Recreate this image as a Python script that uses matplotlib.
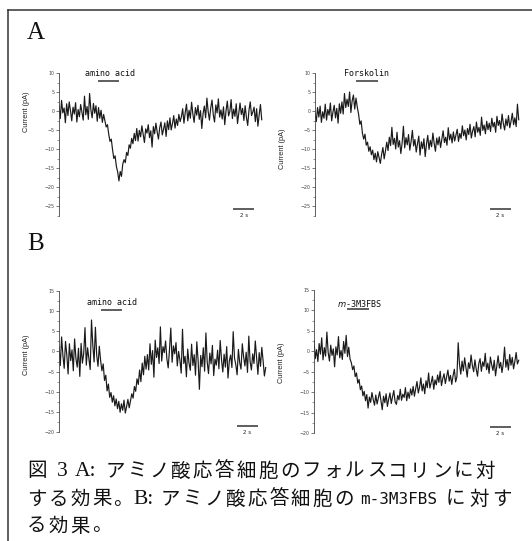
"""Fig 3: patch-clamp current traces, amino-acid responsive cells (A: forskolin, B: m-3M3FBS)."""
import numpy as np
import matplotlib
matplotlib.use("Agg")
import matplotlib.pyplot as plt
from matplotlib.lines import Line2D

W, H = 532, 541
INK = "#1a1a1a"
AXC = "#444444"

# ---------------- data (pA), 160 samples over 20 s each
A_AMINO = [
    1.5, -2.0, 2.8, -0.5, 0.8, -3.1, 1.9, -1.2, 2.4, 0.1, -2.6, 1.0, -0.8, 2.2, -2.9, 0.4, -1.5, 1.7, -0.3, -2.4,
    3.9, -1.0, 1.2, -2.2, 4.6, 0.3, -1.8, 2.0, -0.6, 1.4, -2.7, 0.9, -1.9, 0.2, -3.0, -0.9,
    -2.5, -4.2, -3.6, -6.1, -8.0, -7.4, -10.2, -12.5, -11.8, -14.6, -16.0,
    -18.4, -15.9, -17.2, -14.0, -12.8, -13.6, -10.9, -11.7, -8.9, -9.8, -7.2, -8.6, -5.9, -7.8,
    -4.6, -7.9, -5.1, -6.8, -3.9, -6.2, -8.3, -4.7, -5.8, -3.6, -7.0, -5.2, -9.5, -4.1, -6.0, -3.2, -5.5,
    -7.4, -4.4, -2.9, -6.3, -4.8, -3.1, -6.7, -2.6, -4.9, -1.8, -5.0, -3.3, -1.2, -4.5, -2.1, -3.8, -0.9, -2.8,
    -1.5, 0.6, -3.2, -0.4, 1.8, -2.6, 0.2, -1.9, 2.3, -0.8, -3.0, 0.9, -1.1, 1.5, -2.2, 0.1, -4.6, -0.7,
    1.3, -1.8, 3.4, -0.2, -2.4, 0.8, 2.9, -1.0, -2.9, 1.6, -0.5, 3.2, -1.6, 0.3, -2.1, 1.1, -3.6, 0.0,
    2.6, -1.3, -0.1, 3.0, -2.0, 0.5, -1.4, 1.9, -3.3, -0.6, 2.1, -0.9, 0.7, -2.5, 1.4, -1.7, -3.8, 0.2,
    2.4, -1.2, -0.3, 1.0, -2.8, 0.6, -4.0, -1.0, 1.7, -2.3,
]
A_FORSK = [
    -0.5, -2.8, 0.9, -1.6, 1.3, -3.0, -0.2, -1.9, 1.8, -2.4, 0.4, -1.1, 2.1, -2.6, -0.3, 1.5, -1.8, 0.7, -3.2, 1.9, -0.6,
    2.4, -0.8, 4.6, 0.9, 3.1, 1.2, 5.0, -0.4, 2.7, 4.2, 0.5, 3.4, 1.0,
    -0.8, -3.5, -2.6, -5.8, -7.4, -6.1, -9.0, -8.2, -10.6, -9.4, -11.5,
    -10.3, -12.8, -11.1, -13.4, -10.7, -12.2, -13.8, -11.4, -9.6, -12.6, -10.5,
    -8.2, -10.4, -6.9, -9.1, -4.3, -8.8, -7.2, -10.0, -5.6, -9.5, -7.8, -11.2, -8.4, -4.0, -9.7, -7.0, -8.9, -6.2,
    -10.3, -8.0, -5.1, -9.2, -7.5, -10.8, -8.6, -6.6, -11.6, -8.1, -9.9, -7.3, -12.0, -8.7, -6.4, -10.1, -7.7,
    -9.4, -5.8, -8.5, -10.6, -7.1,
    -8.9, -6.8, -9.6, -7.4, -5.2, -8.3, -6.9, -9.0, -4.4, -7.6, -6.1, -8.4, -5.5, -7.9, -6.4, -4.8, -8.0, -5.9,
    -7.2, -3.9,
    -6.5, -5.0, -7.6, -4.6, -6.2, -3.5, -7.1, -5.3, -4.1, -6.8, -2.9, -5.6, -4.3, -6.4, -1.6, -5.1, -3.7, -6.0,
    -2.7, -4.9, -3.2,
    -5.4, -1.9, -4.2, -3.0, -5.6, -1.4, -3.8, -2.5, -4.7, -0.8, -3.3, -5.0, -2.1, -3.9, -1.2, -4.4, -2.7, -0.6,
    -3.6, -1.8, -4.1, 1.8, -2.3,
]
B_AMINO = [
    1.2, -3.5, 3.6, -1.0, -4.2, 2.5, -0.8, -5.6, 1.9, -2.3, 0.4, -4.8, 3.1, -1.7, -3.9, 0.8, -6.2, 2.0, -2.9, -0.5,
    5.9, -3.4, 0.9, -1.8, -4.5, 7.8, 1.6, -2.6, 6.0, -0.9, -3.7, 1.3, -2.2,
    -4.8, -3.1, -7.2, -5.9, -9.8, -8.1, -11.4, -10.2, -12.6, -11.0,
    -13.5, -11.8, -14.2, -12.4, -15.1, -13.0, -14.6, -12.1, -15.3, -13.7, -11.9, -14.0,
    -12.3, -10.5, -11.6, -8.7, -9.9, -6.8, -8.2, -4.6, -7.5, -2.9, -5.8, -1.2, -4.4,
    -0.8, -4.6, 1.9, -3.2, 0.2, -6.4, 2.8, -1.5, 0.9, -3.0, 6.1, -2.4, 1.2, -0.3, 2.6, -1.9, -4.1, 0.5, 5.8,
    -2.7, 1.4, -0.6, 2.2, -3.6, 0.0,
    -2.1, -5.4, 5.5, -3.0, -1.2, -6.3, 0.6, -2.9, -4.7, 1.8, -3.5, -0.8, -5.9, 2.4, -2.2, -9.4, -1.0, -3.8,
    0.9, -4.9, 4.6, -2.6, -5.5, -0.4, -3.1, 1.5, -6.0, -1.9, -3.4, 0.3, -4.3, 2.7, -2.0, -5.1, -0.7, -3.9,
    1.2, -6.6, -2.4, -0.9, -4.0, 4.9, -1.6, -3.3, -5.8, 0.5, -2.8, -4.4, 1.9, -1.3, -3.6, -0.2, -5.2, 3.8,
    -2.5, -4.6, -0.6, -3.0, 2.6, -1.7, -5.7, -0.3, -3.7, 1.0, -2.3, -6.1, -4.0,
]
B_M3M3 = [
    2.6, -1.8, 0.4, -2.5, 1.9, -0.7, 3.3, -2.1, 0.9, -1.2, 4.7, -0.3, -2.4, 1.5, -1.0, 0.6, -3.8, 1.1, -0.9, 3.6,
    -1.6, 0.2, -2.0, 2.4, -0.5, 3.9, -1.3, 1.0,
    -1.9, -2.8, -4.5, -3.6, -6.2, -5.3, -7.8, -6.9, -9.4, -8.5, -10.9, -9.8, -12.1,
    -10.6, -13.9, -11.2, -12.5, -10.1, -11.8, -13.2, -10.7, -12.9, -11.4, -9.9, -12.2, -14.3, -11.0, -12.6,
    -10.4, -13.5, -11.7, -10.2, -12.8, -11.1, -9.6, -12.4, -13.0, -10.8, -11.9, -9.3, -12.0, -10.5, -11.3,
    -8.9, -12.1, -10.0, -11.5, -9.2,
    -10.7, -8.6, -11.0, -9.1, -7.4, -10.2, -8.8, -6.5, -9.7, -8.0, -10.4, -7.2, -8.9, -5.3, -9.0, -7.7, -6.1,
    -9.3, -7.0, -8.2, -5.8, -7.6, -4.9, -8.4, -6.7, -5.5, -7.9, -6.3, -4.6, -7.3, -5.9, -8.1, -6.0, -4.4,
    -7.5, -6.2,
    2.1, -3.2, -5.6, -2.4, -4.8, -1.6, -3.9, -6.3, -2.8, -4.2, -0.9, -3.5, -5.0, -2.1, -4.4, -6.1, -3.0, -1.8,
    -4.9, -2.6, -3.7, -0.5, -4.5, -2.9, -5.4, -1.4, -3.3, -4.7, -2.2, -6.0, -3.6, -1.1, -4.1, -2.7, -5.2, -3.0,
    1.0, -3.9, -2.0, -4.6, -0.8, -3.4, -1.5, -4.3, -2.5, -0.3, -3.1, -2.2,
]
DURATION = 20.0                       # s
STIM = {"A_AMINO": (3.8, 5.9), "A_FORSK": (4.0, 6.1),
        "B_AMINO": (4.0, 6.1), "B_M3M3": (3.2, 5.3)}
YLIM_A, YLIM_B = (-27.5, 10), (-20, 15)

fig = plt.figure(figsize=(W / 100, H / 100), dpi=100)
fig.patch.set_facecolor("white")


def rect(x0, x1, ytop, ybot):
    return [x0 / W, 1 - ybot / H, (x1 - x0) / W, (ybot - ytop) / H]


def trace_panel(pos, vals, ylim, stim, label, label_xy, ylab_y, bar_y, text_y):
    ax = fig.add_axes(pos)
    t = np.arange(len(vals)) * DURATION / len(vals)
    ax.plot(t, vals, color=INK, lw=0.85)
    ax.set_xlim(0, DURATION)
    ax.set_ylim(*ylim)
    for s in ("top", "right", "bottom"):
        ax.spines[s].set_visible(False)
    ax.spines["left"].set_color(AXC)
    ax.spines["left"].set_linewidth(0.6)
    ax.set_xticks([])
    ax.set_yticks(np.arange(ylim[1], ylim[0] - 0.1, -5))
    ax.set_yticks(np.arange(ylim[1], ylim[0] - 0.1, -2.5), minor=True)
    ax.tick_params(axis="y", which="major", length=2.2, width=0.5, colors=AXC,
                   labelsize=3.4, pad=1)
    ax.tick_params(axis="y", which="minor", length=1.2, width=0.4, colors=AXC)
    ax.set_ylabel("Current (pA)", fontsize=5.3, family="Liberation Sans", color="#222")
    ax.yaxis.set_label_coords(-0.14, ylab_y)
    # stimulus bar + label
    ax.plot(stim, [bar_y, bar_y], color="#333", lw=1.1, solid_capstyle="butt")
    ax.text(label_xy, text_y, label, fontsize=6, family="DejaVu Sans Mono",
            ha="center", va="center", color="#111")
    # 2 s scale bar
    yb = ylim[0] + 0.045 * (ylim[1] - ylim[0])
    ax.plot([17.1, 19.1], [yb, yb], color="#333", lw=1.1, solid_capstyle="butt")
    ax.text(18.1, ylim[0] - 0.002 * (ylim[1] - ylim[0]), "2 s", fontsize=4, ha="center",
            va="center", color="#222", clip_on=False)
    return ax


trace_panel(rect(59, 263, 73, 215.5), A_AMINO, YLIM_A, STIM["A_AMINO"],
            "amino acid", 5.0, 0.73, 7.9, 9.8)
trace_panel(rect(315, 520, 73, 215.5), A_FORSK, YLIM_A, STIM["A_FORSK"],
            "Forskolin", 5.0, 0.47, 7.9, 9.8)
trace_panel(rect(59, 267, 291, 432), B_AMINO, YLIM_B, STIM["B_AMINO"],
            "amino acid", 5.1, 0.55, 10.3, 12.1)
trace_panel(rect(314, 520, 290, 433), B_M3M3, YLIM_B, STIM["B_M3M3"],
            r"$m$-3M3FBS", 4.4, 0.49, 10.3, 11.7)

# panel letters
for letter, y in (("A", 33), ("B", 244)):
    fig.text(27 / W, 1 - y / H, letter, fontsize=18, family="Liberation Serif",
             ha="left", va="center", color="#111")

# frame (top + left rule)
fig.add_artist(Line2D([8 / W, 1], [1 - 10 / H, 1 - 10 / H], transform=fig.transFigure,
                      color="#333", lw=1.1))
fig.add_artist(Line2D([8 / W, 8 / W], [0, 1 - 10 / H], transform=fig.transFigure,
                      color="#333", lw=1.1))

# caption, justified character by character
CJK = dict(family="Noto Sans CJK JP", fontsize=14, va="center", ha="left", color="#111")
SERIF = dict(family="Liberation Serif", fontsize=15.5, va="center", ha="left", color="#111")
PITCH = 21.6


def chars(s, x0, y, pitch=PITCH):
    for k, ch in enumerate(s):
        fig.text((x0 + k * pitch) / W, 1 - y / H, ch, **CJK)


def latin(s, x0, y, style):
    fig.text(x0 / W, 1 - y / H, s, **style)


chars("図", 27, 471)
latin("3", 57, 471, SERIF)
latin("A:", 75, 471, SERIF)
chars("アミノ酸応答細胞のフォルスコリンに対", 106, 471, (516 - 19 - 106) / 18)
chars("する効果。", 27, 499)
latin("B:", 133, 499, SERIF)
chars("アミノ酸応答細胞の", 161, 499)
latin("m-3M3FBS", 360, 499, dict(family="DejaVu Sans Mono", fontsize=11.5,
                                  va="center", ha="left", color="#111"))
chars("に対す", 446, 499, 23.0)
chars("る効果。", 27, 526)

fig.savefig("out.png", dpi=100, facecolor="white")
